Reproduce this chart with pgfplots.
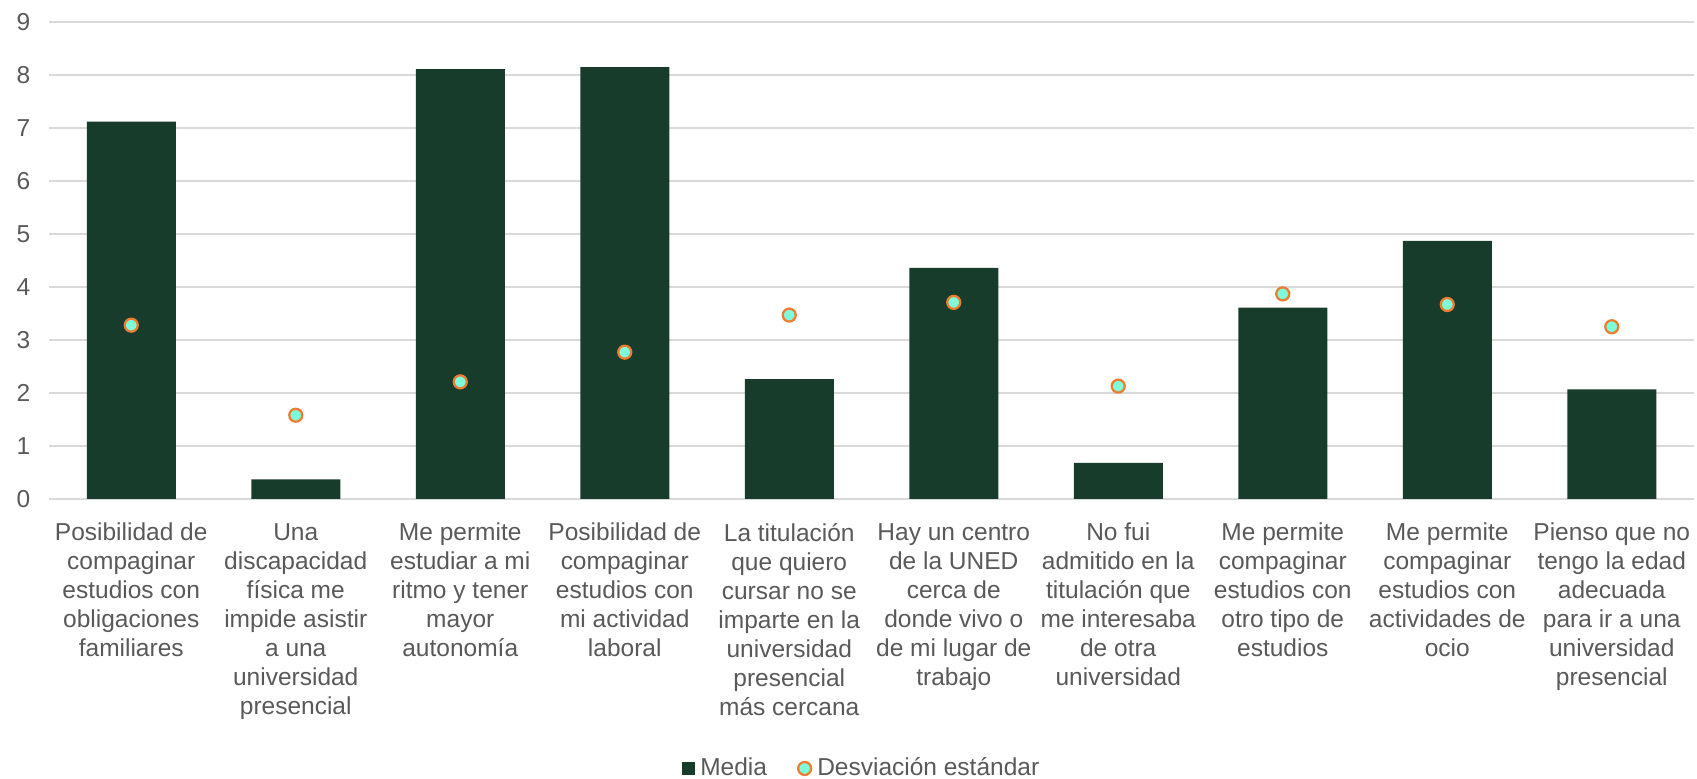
\documentclass[border=0pt]{standalone}
\usepackage{pgfplots}
\pgfplotsset{compat=1.18}
\usetikzlibrary{calc}
\usepackage{fontspec}
\setmainfont{Liberation Sans}
\definecolor{barcol}{HTML}{173C2B}
\definecolor{dotfill}{HTML}{7FFCD8}
\definecolor{dotedge}{HTML}{ED7D31}
\definecolor{txt}{HTML}{595959}
\definecolor{gridc}{HTML}{D9D9D9}
\begin{document}
\begin{tikzpicture}
\begin{axis}[
  name=ax,
  scale only axis,
  width=658pt, height=190.8pt,
  xmin=-0.5, xmax=9.5,
  ymin=0, ymax=9,
  xtick={0,...,9},
  ytick={0,...,9},
  xticklabels={
    {Posibilidad de\\compaginar\\estudios con\\obligaciones\\familiares},
    {Una\\discapacidad\\física me\\impide asistir\\a una\\universidad\\presencial},
    {Me permite\\estudiar a mi\\ritmo y tener\\mayor\\autonomía},
    {Posibilidad de\\compaginar\\estudios con\\mi actividad\\laboral},
    {La titulación\\que quiero\\cursar no se\\imparte en la\\universidad\\presencial\\más cercana},
    {Hay un centro\\de la UNED\\cerca de\\donde vivo o\\de mi lugar de\\trabajo},
    {No fui\\admitido en la\\titulación que\\me interesaba\\de otra\\universidad},
    {Me permite\\compaginar\\estudios con\\otro tipo de\\estudios},
    {Me permite\\compaginar\\estudios con\\actividades de\\ocio},
    {Pienso que no\\tengo la edad\\adecuada\\para ir a una\\universidad\\presencial}
  },
  xticklabel style={align=center, font=\fontsize{9.8}{11.6}\selectfont, text=txt, inner sep=2pt, yshift=-7.5pt},
  yticklabel style={font=\fontsize{9.8}{11.6}\selectfont, text=txt, xshift=-4pt},
  /pgf/number format/assume math mode=true,
  ymajorgrids,
  grid style={gridc, line width=0.8pt},
  axis line style={draw=none},
  major tick style={draw=none},
  clip=false,
  legend style={at={(0.495,-0.565)}, anchor=center, draw=none, fill=none,
    font=\fontsize{9.8}{11.6}\selectfont, text=txt, legend columns=2,
    /tikz/every even column/.append style={column sep=10pt},
    inner sep=0pt},
  legend cell align=left,
]
\addplot[ybar, bar width=35.6pt, fill=barcol, draw=none,
  legend image code/.code={\fill[barcol] (0pt,-2.6pt) rectangle (5.2pt,2.6pt);}]
  coordinates {(0,7.12) (1,0.37) (2,8.11) (3,8.15) (4,2.26) (5,4.36) (6,0.68) (7,3.61) (8,4.87) (9,2.07)};
\addlegendentry{Media}
\addplot[only marks, mark=*, mark size=2.6pt, mark options={fill=dotfill, draw=dotedge, line width=0.9pt},
  legend image code/.code={\draw[fill=dotfill, draw=dotedge, line width=0.9pt] (2.6pt,0pt) circle (2.6pt);}]
  coordinates {(0,3.28) (1,1.58) (2,2.21) (3,2.77) (4,3.47) (5,3.71) (6,2.13) (7,3.87) (8,3.67) (9,3.25)};
\addlegendentry{Desviación estándar}
\end{axis}
\pgfresetboundingbox
\path[use as bounding box] ($(ax.south west)+(-19.6pt,-112pt)$) rectangle ($(ax.north east)+(1.2pt,8.8pt)$);
\end{tikzpicture}
\end{document}
